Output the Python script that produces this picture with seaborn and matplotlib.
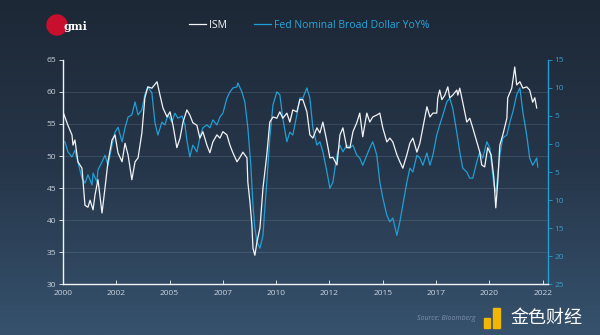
import numpy as np
import pandas as pd
import seaborn as sns
import matplotlib
matplotlib.use("Agg")
import matplotlib.pyplot as plt
from matplotlib.lines import Line2D
from matplotlib.patches import Ellipse, Rectangle

# ---------------- data ----------------
ism_year = [2000.00, 2000.23, 2000.42, 2000.47, 2000.56, 2000.70, 2000.89, 2001.03, 2001.17, 2001.27,
            2001.41, 2001.50, 2001.64, 2001.83, 2001.97, 2002.11, 2002.30, 2002.44, 2002.58, 2002.77,
            2002.91, 2003.05, 2003.23, 2003.38, 2003.52, 2003.70, 2003.84, 2003.98, 2004.17, 2004.41,
            2004.55, 2004.69, 2004.88, 2005.02, 2005.16, 2005.34, 2005.49, 2005.63, 2005.81, 2005.95,
            2006.09, 2006.28, 2006.42, 2006.56, 2006.75, 2006.89, 2007.03, 2007.22, 2007.36, 2007.50,
            2007.69, 2007.83, 2007.97, 2008.16, 2008.30, 2008.44, 2008.63, 2008.67, 2008.77, 2008.86,
            2008.91, 2009.00, 2009.10, 2009.24, 2009.38, 2009.56, 2009.70, 2009.85, 2010.03, 2010.17,
            2010.31, 2010.50, 2010.64, 2010.78, 2010.97, 2011.11, 2011.25, 2011.44, 2011.58, 2011.72,
            2011.91, 2012.05, 2012.19, 2012.38, 2012.52, 2012.66, 2012.85, 2012.99, 2013.13, 2013.31,
            2013.46, 2013.60, 2013.78, 2013.92, 2014.06, 2014.25, 2014.39, 2014.53, 2014.72, 2014.86,
            2015.00, 2015.19, 2015.33, 2015.47, 2015.66, 2015.80, 2015.94, 2016.13, 2016.27, 2016.41,
            2016.60, 2016.74, 2016.88, 2017.07, 2017.21, 2017.35, 2017.53, 2017.58, 2017.67, 2017.77,
            2017.91, 2018.05, 2018.14, 2018.28, 2018.47, 2018.52, 2018.61, 2018.75, 2018.94, 2019.08,
            2019.22, 2019.41, 2019.55, 2019.64, 2019.78, 2019.92, 2020.08, 2020.21, 2020.30, 2020.39,
            2020.49, 2020.63, 2020.82, 2020.86, 2021.05, 2021.19, 2021.28, 2021.43, 2021.57, 2021.75,
            2021.89, 2022.03, 2022.13, 2022.22]
ism_value = [56.9, 54.8, 53.3, 51.7, 52.5, 49.1, 48.1, 42.3, 42.0, 43.1,
             41.6, 43.9, 46.3, 41.1, 45.0, 49.1, 52.5, 53.3, 50.5, 49.1,
             52.0, 50.2, 46.3, 49.1, 49.7, 53.6, 59.1, 60.8, 60.6, 61.6,
             59.5, 57.5, 56.1, 56.9, 54.8, 51.3, 52.8, 55.3, 57.2, 56.4,
             55.2, 54.8, 52.8, 53.8, 51.7, 50.5, 52.2, 53.3, 52.8, 53.8,
             53.3, 51.7, 50.5, 49.1, 49.8, 50.6, 49.7, 45.9, 42.8, 39.2,
             35.6, 34.5, 36.6, 38.8, 45.0, 50.2, 55.3, 56.1, 55.9, 56.9,
             55.9, 56.7, 55.3, 57.2, 56.9, 58.8, 58.8, 56.9, 53.3, 52.8,
             54.4, 53.6, 55.3, 52.2, 49.7, 49.8, 48.6, 53.3, 54.4, 51.3,
             51.3, 53.8, 55.2, 56.7, 53.0, 56.7, 55.3, 56.1, 56.4, 56.7,
             54.4, 52.2, 52.8, 52.2, 50.2, 49.1, 48.1, 50.2, 52.0, 52.8,
             50.6, 52.0, 54.4, 57.7, 56.1, 56.7, 56.7, 59.1, 60.3, 58.8,
             59.5, 60.8, 59.1, 59.5, 60.3, 59.5, 60.6, 58.4, 55.3, 55.9,
             54.4, 52.2, 50.6, 48.6, 48.3, 51.3, 50.2, 46.6, 41.9, 45.9,
             51.7, 53.3, 55.9, 59.1, 60.6, 63.9, 61.1, 61.6, 60.6, 60.8,
             60.3, 58.4, 59.1, 57.5]

usd_year = [2000.09, 2000.23, 2000.42, 2000.56, 2000.70, 2000.89, 2001.03, 2001.17, 2001.36, 2001.41,
            2001.59, 2001.64, 2001.83, 2001.97, 2002.11, 2002.30, 2002.44, 2002.58, 2002.77, 2002.91,
            2003.05, 2003.23, 2003.38, 2003.52, 2003.70, 2003.84, 2003.98, 2004.17, 2004.31, 2004.45,
            2004.64, 2004.78, 2004.92, 2005.11, 2005.25, 2005.39, 2005.58, 2005.72, 2005.81, 2005.95,
            2006.09, 2006.28, 2006.42, 2006.56, 2006.75, 2006.89, 2007.03, 2007.22, 2007.36, 2007.50,
            2007.69, 2007.83, 2007.97, 2008.16, 2008.20, 2008.39, 2008.53, 2008.67, 2008.81, 2008.91,
            2009.00, 2009.10, 2009.24, 2009.38, 2009.47, 2009.56, 2009.70, 2009.85, 2010.03, 2010.17,
            2010.31, 2010.50, 2010.64, 2010.78, 2010.97, 2011.11, 2011.25, 2011.44, 2011.58, 2011.72,
            2011.91, 2012.05, 2012.19, 2012.38, 2012.52, 2012.66, 2012.85, 2012.99, 2013.13, 2013.31,
            2013.46, 2013.60, 2013.78, 2013.92, 2014.06, 2014.25, 2014.39, 2014.53, 2014.72, 2014.86,
            2015.00, 2015.19, 2015.33, 2015.47, 2015.66, 2015.80, 2015.94, 2016.13, 2016.27, 2016.41,
            2016.60, 2016.74, 2016.88, 2017.07, 2017.21, 2017.35, 2017.53, 2017.67, 2017.82, 2018.00,
            2018.14, 2018.28, 2018.47, 2018.61, 2018.75, 2018.94, 2019.08, 2019.22, 2019.41, 2019.55,
            2019.69, 2019.88, 2020.02, 2020.11, 2020.21, 2020.30, 2020.39, 2020.49, 2020.63, 2020.82,
            2020.96, 2021.10, 2021.28, 2021.43, 2021.57, 2021.75, 2021.89, 2022.03, 2022.22, 2022.27]
usd_value = [-0.4, 1.4, 2.3, 1.1, 3.2, 6.1, 7.0, 5.5, 7.3, 5.2,
             6.8, 4.6, 3.2, 2.0, 3.8, 0.2, -2.1, -3.0, -0.4, -2.9,
             -4.8, -5.2, -7.5, -5.2, -6.1, -8.8, -10.2, -9.1, -3.9, -1.6,
             -3.9, -3.4, -5.2, -3.9, -5.5, -4.6, -5.0, -3.4, -0.7, 2.3,
             0.2, 1.4, -1.1, -2.9, -3.4, -2.9, -4.3, -3.4, -4.8, -5.5,
             -8.2, -9.3, -10.0, -10.2, -10.9, -9.3, -7.5, -2.9, 3.8, 10.9,
             15.0, 17.5, 18.6, 16.3, 11.4, 6.8, -1.1, -7.0, -9.3, -8.8,
             -4.6, -0.4, -2.1, -1.6, -5.2, -8.2, -8.2, -10.0, -8.2, -2.9,
             0.2, -0.4, 1.4, 5.0, 7.9, 6.8, 2.0, 0.2, 1.4, 0.2,
             0.7, 0.2, 2.0, 2.5, 3.8, 2.0, 0.7, -0.4, 2.0, 6.8,
             9.6, 12.7, 13.9, 13.2, 16.3, 13.9, 10.9, 6.8, 4.3, 5.0,
             2.0, 2.5, 3.8, 1.6, 3.8, 2.0, -1.6, -3.4, -5.2, -7.5,
             -8.2, -6.4, -2.1, 1.4, 4.3, 5.0, 6.1, 6.1, 3.2, 1.4,
             2.5, -0.4, 0.7, 3.8, 7.3, 8.6, 5.7, 2.0, -1.1, -1.6,
             -3.9, -5.7, -8.8, -10.0, -5.7, -1.6, 2.5, 3.8, 2.5, 4.1]

x_ticks = [2000, 2002.5, 2005, 2007.5, 2010, 2012.5, 2015, 2017.5, 2020, 2022.5]
x_labels = ["2000", "2002", "2005", "2007", "2010", "2012", "2015", "2017", "2020", "2022"]
left_ticks = [30, 35, 40, 45, 50, 55, 60, 65]
right_ticks = [-15, -10, -5, 0, 5, 10, 15, 20, 25]
right_labels = ["15", "10", "5", "0", "5", "10", "15", "20", "25"]

ism_df = pd.DataFrame({"year": ism_year, "value": ism_value})
usd_df = pd.DataFrame({"year": usd_year, "value": usd_value})

# ---------------- styling ----------------
plt.rcParams["font.family"] = ["Open Sans", "DejaVu Sans"]
WHITE = "#f2f4f7"
CYAN = "#1f9fd5"
TICK = "#c9d2dc"

fig = plt.figure(figsize=(6.0, 3.35), dpi=100)

# background gradient
bg = fig.add_axes([0, 0, 1, 1], zorder=-10)
grad = np.linspace(0, 1, 256).reshape(-1, 1)
from matplotlib.colors import LinearSegmentedColormap
cmap = LinearSegmentedColormap.from_list("bg", ["#1d2836", "#26364a", "#36526d"])
bg.imshow(grad, aspect="auto", cmap=cmap, extent=[0, 1, 0, 1], origin="upper")
bg.set_axis_off()

ax = fig.add_axes([0.105, 0.152, 0.808, 0.669])
ax.set_facecolor("none")
sns.lineplot(data=ism_df, x="year", y="value", ax=ax, color=WHITE, lw=0.9, zorder=3)
ax.set_xlim(2000, 2022.74)
ax.set_ylim(30, 65)
ax.set_yticks(left_ticks)
ax.set_xticks(x_ticks)
ax.set_xticklabels(x_labels)
ax.set_xlabel("")
ax.set_ylabel("")
for y in left_ticks[1:-1]:
    ax.axhline(y, color="#8fa3b8", lw=0.6, alpha=0.25, zorder=1)
for s in ["top"]:
    ax.spines[s].set_visible(False)
ax.spines["left"].set_color(WHITE)
ax.spines["bottom"].set_color(WHITE)
ax.spines["left"].set_linewidth(1.0)
ax.spines["bottom"].set_linewidth(1.0)
ax.spines["right"].set_visible(False)
ax.tick_params(axis="y", colors=WHITE, labelcolor=TICK, labelsize=6, length=3, width=0.6, pad=2)
ax.tick_params(axis="x", colors=WHITE, labelcolor=TICK, labelsize=6, length=3, width=0.6,
               direction="in", pad=4)

ax2 = ax.twinx()
sns.lineplot(data=usd_df, x="year", y="value", ax=ax2, color=CYAN, lw=0.9, zorder=2)
ax2.set_ylim(25, -15)
ax2.set_yticks(right_ticks)
ax2.set_yticklabels(right_labels)
ax2.set_ylabel("")
ax2.set_xlim(2000, 2022.74)
for s in ["top", "left", "bottom"]:
    ax2.spines[s].set_visible(False)
ax2.spines["right"].set_color(CYAN)
ax2.spines["right"].set_linewidth(1.0)
ax2.tick_params(axis="y", colors=CYAN, labelcolor="#3a9ccc", labelsize=6, length=3, width=0.6, pad=2)
ax.set_zorder(ax2.get_zorder() + 1)
ax.patch.set_visible(False)

# legend
handles = [Line2D([0], [0], color=WHITE, lw=0.9), Line2D([0], [0], color=CYAN, lw=0.9)]
leg = fig.legend(handles, ["ISM", "Fed Nominal Broad Dollar YoY%"], loc="center",
                 bbox_to_anchor=(0.515, 0.925), ncol=2, frameon=False, fontsize=7.5,
                 handlelength=1.6, handletextpad=0.3, columnspacing=2.6)
leg.get_texts()[0].set_color(WHITE)
leg.get_texts()[1].set_color("#2aa6de")

# logo
fig.add_artist(Ellipse((57 / 600, 1 - 25 / 335), 20 / 600, 20 / 335, color="#c8102e",
                       transform=fig.transFigure, zorder=5))
fig.text(63 / 600, 1 - 26 / 335, "gmi", color="white", fontsize=8, fontweight="bold",
         family=["DejaVu Serif"], va="center", ha="left", zorder=6)

# source & watermark
fig.text(417 / 600, 1 - 318 / 335, "Source: Bloomberg", color="#7d90ad", fontsize=5,
         style="italic", va="center", ha="left")
fig.add_artist(Rectangle((484 / 600, 1 - 328 / 335), 6 / 600, 10 / 335, color="#f2b705",
                         transform=fig.transFigure, zorder=5))
fig.add_artist(Rectangle((493 / 600, 1 - 328 / 335), 7 / 600, 20 / 335, color="#f2b705",
                         transform=fig.transFigure, zorder=5))
fig.text(510 / 600, 1 - 318 / 335, "金色财经", color="white", fontsize=13,
         family=["Noto Sans CJK SC", "DejaVu Sans"], va="center", ha="left")

fig.savefig("out.png", dpi=100)
